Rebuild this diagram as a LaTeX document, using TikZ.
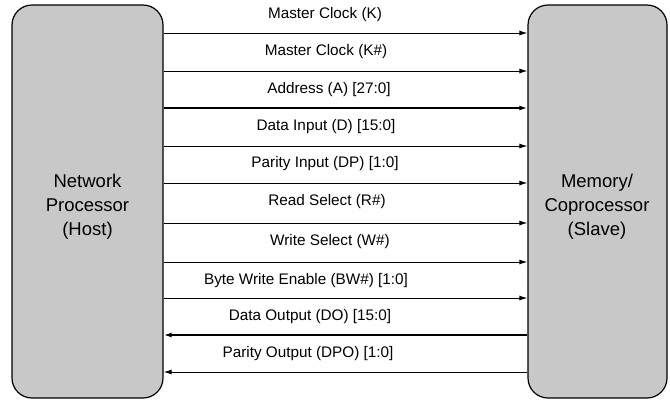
\documentclass[tikz,border=0pt]{standalone}
\usepackage{fontspec}
\setmainfont{Liberation Sans}
\usetikzlibrary{arrows.meta}
\definecolor{boxgray}{HTML}{C8C8C8}
\begin{document}
\begin{tikzpicture}[x=1pt,y=-1pt,
  unit/.style={draw=black, line width=1.2pt, fill=boxgray, rounded corners=20pt,
    inner sep=0pt},
  unittext/.style={align=center, inner sep=0pt, font=\fontsize{18.5}{24}\selectfont},
  sig/.style={line width=1pt, -{Latex[length=8pt,width=5pt]}},
  sigback/.style={line width=1pt, {Latex[length=8pt,width=5pt]}-},
  bus/.style={line width=1.7pt},
  lbl/.style={font=\fontsize{15.3}{17}\selectfont, inner sep=0pt}]
\useasboundingbox (0,0) rectangle (670,400);
\node[unit, minimum width=151pt, minimum height=393pt] (host) at (87.5,201.5) {};
\node[unit, minimum width=139pt, minimum height=393pt] (slave) at (597.5,201.5) {};
\node[unittext] (hostname) at (87.5,207) {Network\\Processor\\(Host)};
\node[unittext] (slavename) at (597,207) {Memory/\\Coprocessor\\(Slave)};
\foreach \i/\yy in {1/33,2/71,3/108,4/146,5/183,6/223,7/262,8/298,9/335,10/372}
  \coordinate (y\i) at (0,\yy);
\draw[sig] (host.east |- y1) -- (slave.west |- y1);
\draw[sig] (host.east |- y2) -- (slave.west |- y2);
\draw[sig,bus] (host.east |- y3) -- (slave.west |- y3);
\draw[sig] (host.east |- y4) -- (slave.west |- y4);
\draw[sig] (host.east |- y5) -- (slave.west |- y5);
\draw[sig] (host.east |- y6) -- (slave.west |- y6);
\draw[sig] (host.east |- y7) -- (slave.west |- y7);
\draw[sig] (host.east |- y8) -- (slave.west |- y8);
\draw[sigback,bus] (host.east |- y9) -- (slave.west |- y9);
\draw[sigback] (host.east |- y10) -- (slave.west |- y10);
\node[lbl] (t1) at (325,14.5) {Master Clock (K)};
\node[lbl] (t2) at (326,52) {Master Clock (K\#)};
\node[lbl] (t3) at (329,89.5) {Address (A) [27:0]};
\node[lbl] (t4) at (326,126.5) {Data Input (D) [15:0]};
\node[lbl] (t5) at (325,164) {Parity Input (DP) [1:0]};
\node[lbl] (t6) at (327,202) {Read Select (R\#)};
\node[lbl] (t7) at (330,242) {Write Select (W\#)};
\node[lbl] (t8) at (306,281) {Byte Write Enable (BW\#) [1:0]};
\node[lbl] (t9) at (310,317) {Data Output (DO) [15:0]};
\node[lbl] (t10) at (308,354) {Parity Output (DPO) [1:0]};
\end{tikzpicture}
\end{document}
